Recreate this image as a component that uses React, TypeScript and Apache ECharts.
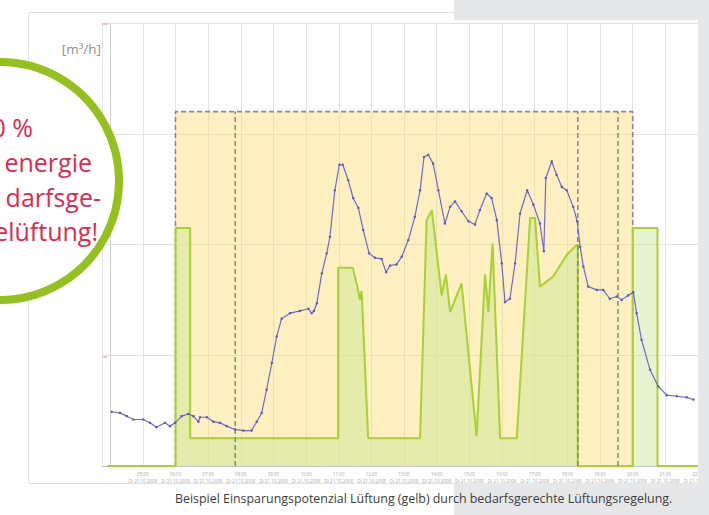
import React, { useEffect, useRef } from "react";
import * as echarts from "echarts";

// x: hours after 04:00, y: air flow [m³/h] (relative scale)
const startHour = 4;
const dateLabel = "Di 21.10.2008";
const caption = "Beispiel Einsparungspotenzial Lüftung (gelb) durch bedarfsgerechte Lüftungsregelung.";
const unitLabel = "[m³/h]";
const circleLines = ["0 %", "energie", "darfsge-", "elüftung!"];

// yellow: constant ventilation during usage time
const yellowX = [2.0, 2.0, 16.0, 16.0];
const yellowY = [0, 320, 320, 0];
// dashed markers inside the usage time
const dashedX = [3.83, 14.32, 15.55];
const dashedTop = 320;

// green: demand-controlled ventilation
const greenX = [-0.1, 2.0, 2.0, 2.45, 2.45, 6.98, 6.98, 7.43, 7.56, 7.65, 7.70, 7.90, 9.49, 9.69, 9.85, 10.15, 10.28, 10.41, 10.76, 11.22, 11.48, 11.58, 11.71, 11.94, 12.45, 12.86, 13.01, 13.16, 13.56, 13.99, 14.26, 14.32, 14.32, 16.0, 16.0, 16.76, 16.76, 18.0];
const greenY = [0, 0, 215, 215, 25, 25, 179, 179, 163, 150, 158, 25, 25, 222, 231, 154, 173, 139, 165, 27, 173, 139, 201, 25, 25, 224, 224, 162, 171, 191, 199, 200, 0, 0, 215, 215, 0, 0];

// blue: measured value
const blueX = [0.05, 0.30, 0.51, 0.71, 1.01, 1.22, 1.42, 1.68, 1.83, 1.99, 2.19, 2.39, 2.55, 2.70, 2.75, 2.96, 3.16, 3.36, 3.57, 3.82, 4.08, 4.33, 4.49, 4.64, 4.79, 4.95, 5.10, 5.25, 5.51, 5.81, 6.07, 6.17, 6.24, 6.33, 6.48, 6.63, 6.73, 6.88, 7.02, 7.12, 7.29, 7.44, 7.60, 7.75, 7.93, 8.11, 8.31, 8.45, 8.57, 8.77, 8.93, 9.13, 9.33, 9.49, 9.61, 9.74, 9.89, 10.05, 10.25, 10.41, 10.56, 10.76, 10.97, 11.17, 11.32, 11.53, 11.68, 11.84, 11.99, 12.09, 12.24, 12.40, 12.55, 12.77, 12.96, 13.16, 13.28, 13.34, 13.52, 13.67, 13.83, 13.98, 14.18, 14.30, 14.39, 14.49, 14.64, 14.90, 15.10, 15.30, 15.51, 15.66, 15.86, 16.02, 16.12, 16.27, 16.53, 16.78, 17.04, 17.35, 17.65, 17.86];
const blueY = [49, 48, 45, 42, 42, 39, 35, 39, 36, 39, 45, 47, 45, 40, 44, 44, 40, 39, 36, 33, 32, 32, 40, 48, 69, 93, 117, 133, 138, 140, 142, 138, 140, 147, 174, 192, 207, 249, 272, 272, 258, 242, 233, 213, 192, 188, 187, 175, 181, 182, 189, 204, 225, 249, 279, 281, 273, 249, 219, 234, 239, 230, 221, 218, 231, 246, 242, 222, 183, 148, 151, 183, 228, 249, 236, 219, 194, 260, 275, 263, 252, 249, 234, 221, 198, 180, 162, 159, 159, 151, 153, 150, 154, 157, 138, 114, 87, 72, 64, 63, 62, 60];

const pair = (xs: number[], ys: number[]) => xs.map((x, i) => [x, ys[i]]);
const pad = (n: number) => (n < 10 ? "0" + n : "" + n);

export default function App() {
  const ref = useRef<HTMLDivElement>(null);
  useEffect(() => {
    const chart = echarts.init(ref.current!, null, { renderer: "svg", width: 709, height: 515 });
    const font = "Open Sans";
    const dashedSeries = dashedX.map((x) => ({
      type: "line",
      data: [[x, 0], [x, dashedTop]],
      symbol: "none",
      silent: true,
      lineStyle: { color: "#8a8a8a", width: 1.6, type: [5, 3] },
    }));
    const gray = "#e6e7e9";
    const option: any = {
      animation: false,
      backgroundColor: "#ffffff",
      grid: { left: 102, top: 23, width: 596, height: 443, containLabel: false, outerBoundsMode: "none" },
      xAxis: {
        type: "value",
        min: -0.25,
        max: 18,
        minInterval: 1,
        maxInterval: 1,
        axisLine: { show: true, onZero: false, lineStyle: { color: "#c4c4c4", width: 1 } },
        axisTick: { show: false },
        splitLine: { show: true, lineStyle: { color: "#e3e3e3", width: 1 } },
        axisLabel: {
          show: true,
          margin: 4,
          fontSize: 4.5,
          lineHeight: 7,
          color: "#a8a8a8",
          fontFamily: font,
          hideOverlap: false,
          showMinLabel: true,
          showMaxLabel: true,
          formatter: (v: number) => (v < 0.5 ? "" : `${pad((startHour + Math.round(v)) % 24)}:00\n${dateLabel}`),
        },
      },
      yAxis: {
        type: "value",
        min: 0,
        max: 400,
        interval: 100,
        axisLine: { show: true, lineStyle: { color: "#d0d0d0", width: 1 } },
        axisTick: { show: false },
        axisLabel: { show: false },
        splitLine: { show: true, lineStyle: { color: "#e3e3e3", width: 1 } },
      },
      series: [
        {
          type: "line",
          data: pair(yellowX, yellowY),
          symbol: "none",
          silent: true,
          lineStyle: { color: "#8a8a8a", width: 1.6, type: [5, 3] },
          areaStyle: { color: "rgba(250,218,110,0.62)" },
        },
        {
          type: "line",
          data: pair(greenX, greenY),
          symbol: "none",
          silent: true,
          lineStyle: { color: "#a8d133", width: 2 },
          areaStyle: { color: "rgba(195,230,145,0.62)" },
        },
        ...dashedSeries,
        {
          type: "line",
          data: pair(blueX, blueY),
          symbol: "circle",
          symbolSize: 2.5,
          showSymbol: true,
          showAllSymbol: true,
          silent: true,
          itemStyle: { color: "#5f57c0" },
          lineStyle: { color: "#7068cc", width: 1.2 },
        },
      ],
      graphic: [
        { type: "rect", z: 0, silent: true, shape: { x: 28.5, y: 12.5, width: 670, height: 471 }, style: { fill: "none", stroke: "#e2e2e2", lineWidth: 1 } },
        { type: "line", z: 50, silent: true, shape: { x1: 102, y1: 24, x2: 108, y2: 24 }, style: { stroke: "#e8a0b0", lineWidth: 1.2 } },
        { type: "line", z: 50, silent: true, shape: { x1: 103, y1: 357, x2: 107, y2: 357 }, style: { stroke: "#e8a0b0", lineWidth: 1.2 } },
        { type: "text", z: 50, silent: true, x: 101, y: 49, style: { text: unitLabel, fontSize: 13.5, fontFamily: font, fill: "#8d8d8d", align: "right", verticalAlign: "middle" } },
        { type: "rect", z: 100, silent: true, shape: { x: 454, y: 0, width: 255, height: 20 }, style: { fill: gray } },
        { type: "rect", z: 100, silent: true, shape: { x: 698, y: 0, width: 11, height: 515 }, style: { fill: gray } },
        { type: "rect", z: 100, silent: true, shape: { x: 454, y: 483, width: 255, height: 32 }, style: { fill: gray } },
        { type: "text", z: 101, silent: true, x: 175, y: 498, style: { text: caption, fontSize: 12.4, fontFamily: font, fill: "#3c3c3c", align: "left", verticalAlign: "middle" } },
        { type: "circle", z: 100, silent: true, shape: { cx: 0, cy: 181, r: 119 }, style: { fill: "#ffffff", stroke: "#95c11f", lineWidth: 8 } },
        ...circleLines.map((t, i) => ({
          type: "text",
          z: 101,
          silent: true,
          x: [33, 92, 101, 98][i],
          y: [127, 162, 197, 231][i],
          style: { text: t, fontSize: 25, fontFamily: font, fill: "#e0284f", align: "right", verticalAlign: "middle" },
        })),
      ],
    };
    chart.setOption(option);
    return () => chart.dispose();
  }, []);
  return <div ref={ref} style={{ position: "fixed", left: 0, top: 0, width: 709, height: 515, background: "#fff" }} />;
}
